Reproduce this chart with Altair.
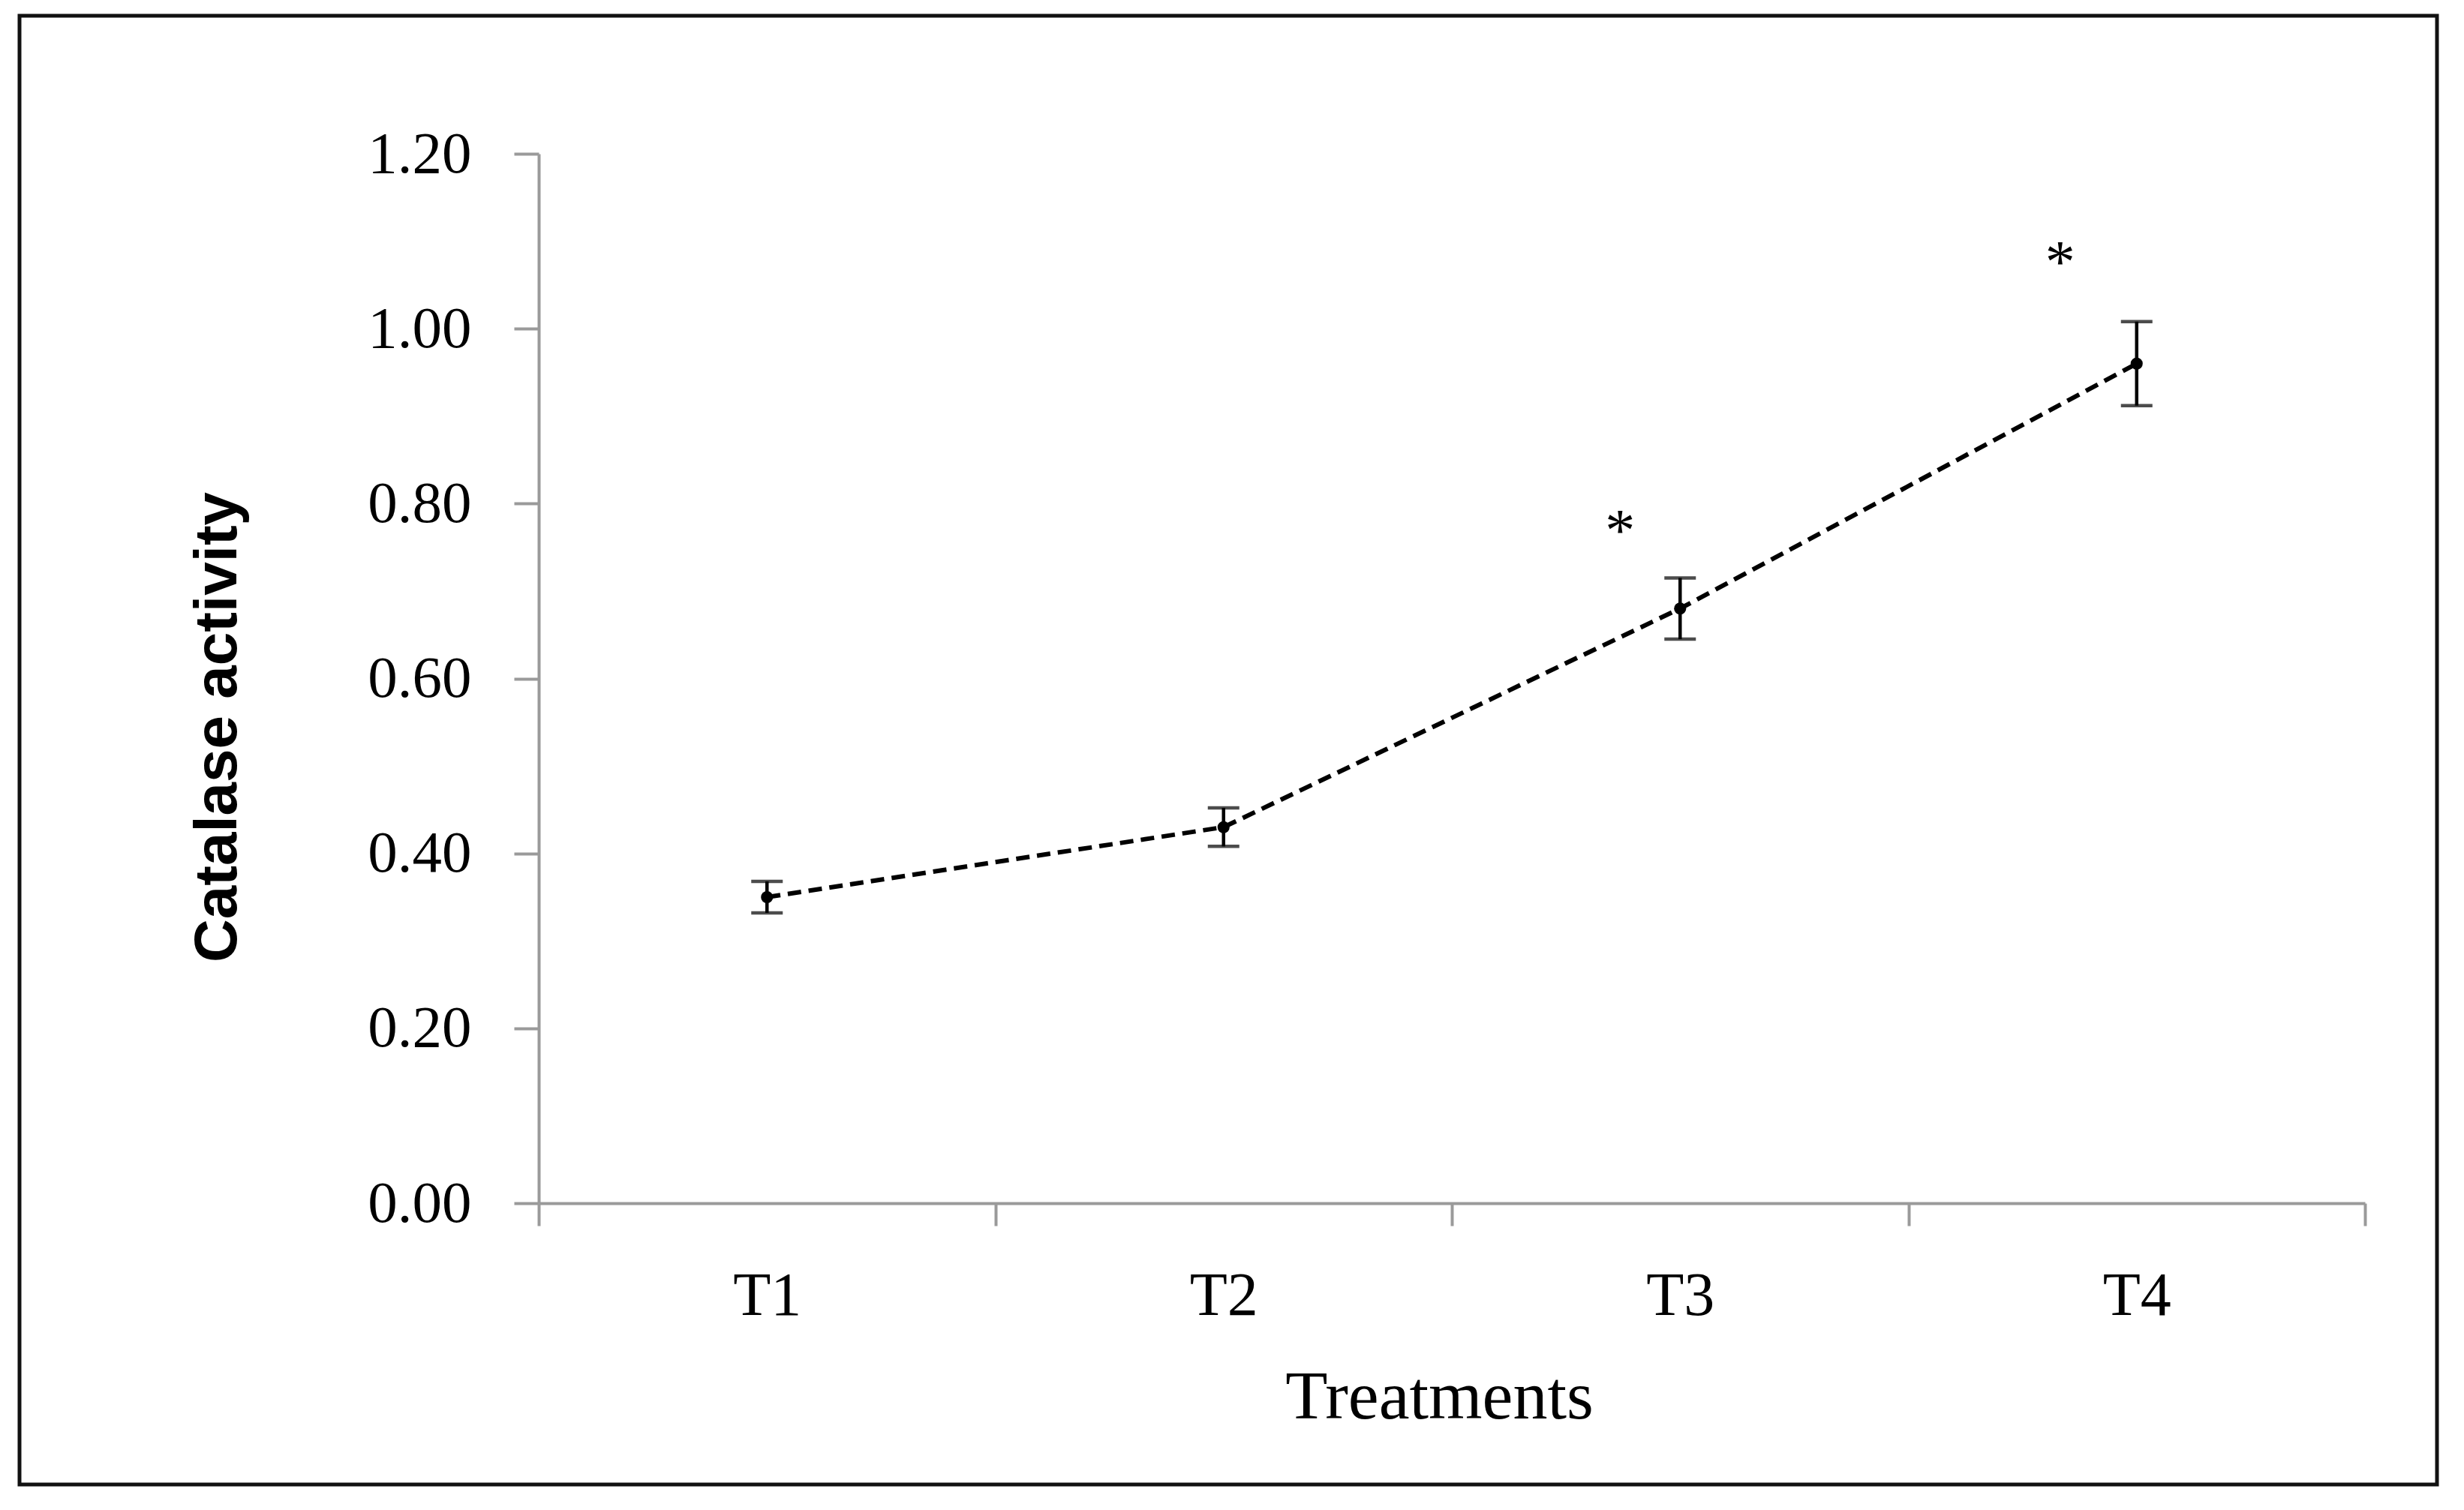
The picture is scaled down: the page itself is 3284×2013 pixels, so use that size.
import altair as alt
import pandas as pd

# ---- data ----
treatments = ["T1", "T2", "T3", "T4"]
catalase = [0.35, 0.43, 0.68, 0.96]
std_err = [0.018, 0.022, 0.035, 0.048]
star_treatments = ["T3", "T4"]
star_values = [0.778, 1.085]
y_ticks = [0.0, 0.2, 0.4, 0.6, 0.8, 1.0, 1.2]

df = pd.DataFrame({"treatment": treatments, "value": catalase, "err": std_err})
df["lo"] = df["value"] - df["err"]
df["hi"] = df["value"] + df["err"]
stars = pd.DataFrame({"treatment": star_treatments, "value": star_values, "label": ["*", "*"]})

AXIS_GRAY = "#9a9a9a"
SERIF = "Liberation Serif"

xscale = alt.Scale(domain=treatments, paddingInner=0, paddingOuter=0)
yscale = alt.Scale(domain=[0, 1.2], nice=False, zero=True)

xaxis = alt.Axis(
    title="Treatments", titleFont=SERIF, titleFontSize=92, titleFontWeight="normal",
    titleColor="black", titleBaseline="alphabetic", titleAlign="center",
    titleX=1200, titleY=286,
    labelFont=SERIF, labelFontSize=82, labelColor="black", labelAngle=0,
    labelBaseline="alphabetic", labelPadding=118,
    tickBand="extent", tickSize=30, tickWidth=4, tickColor=AXIS_GRAY,
    domainColor=AXIS_GRAY, domainWidth=4, grid=False,
)
yaxis = alt.Axis(
    title="Catalase activity", titleFont="Liberation Sans", titleFontSize=80,
    titleFontWeight="bold", titleColor="black", titleAngle=270,
    titleBaseline="alphabetic", titleAlign="center", titleX=-404, titleY=764,
    values=y_ticks, format=".2f",
    labelFont=SERIF, labelFontSize=79, labelColor="black", labelPadding=57,
    tickSize=33, tickWidth=4, tickColor=AXIS_GRAY,
    domainColor=AXIS_GRAY, domainWidth=4, grid=False,
)

def X(field="treatment"):
    return alt.X(f"{field}:N", scale=xscale, axis=xaxis, sort=treatments)

def Y(field):
    return alt.Y(f"{field}:Q", scale=yscale, axis=yaxis)

base = alt.Chart(df)

frame = alt.Chart(pd.DataFrame({"k": [0]})).mark_rect(
    fillOpacity=0, stroke="#111111", strokeWidth=5
).encode(
    x=alt.value(-692), x2=alt.value(2530), y=alt.value(-184), y2=alt.value(1774)
)

line = base.mark_line(color="black", strokeWidth=6, strokeDash=[18, 10]).encode(
    x=X(), y=Y("value")
)
bars = base.mark_rule(color="black", strokeWidth=4.5).encode(
    x=X(), y=Y("lo"), y2="hi"
)
cap_lo = base.mark_tick(color="black", thickness=4.5, size=42, orient="horizontal").encode(
    x=X(), y=Y("lo")
)
cap_hi = base.mark_tick(color="black", thickness=4.5, size=42, orient="horizontal").encode(
    x=X(), y=Y("hi")
)
points = base.mark_point(filled=True, color="black", size=260, opacity=1).encode(
    x=X(), y=Y("value")
)
star_t3 = alt.Chart(stars).transform_filter(alt.datum.treatment == "T3").mark_text(
    font=SERIF, fontSize=80, color="black", baseline="middle", align="center", dx=-80, dy=13
).encode(x=X(), y=Y("value"), text="label:N")
star_t4 = alt.Chart(stars).transform_filter(alt.datum.treatment == "T4").mark_text(
    font=SERIF, fontSize=80, color="black", baseline="middle", align="center", dx=-102, dy=13
).encode(x=X(), y=Y("value"), text="label:N")

chart = alt.layer(frame, line, bars, cap_lo, cap_hi, points, star_t3, star_t4).properties(
    width=2434, height=1399,
    autosize=alt.AutoSizeParams(type="none"),
    padding={"left": 710, "top": 197, "right": 120, "bottom": 390},
    background="white",
).configure_view(strokeWidth=0)

chart.save("out.html", embed_options={"renderer": "svg", "actions": False})
